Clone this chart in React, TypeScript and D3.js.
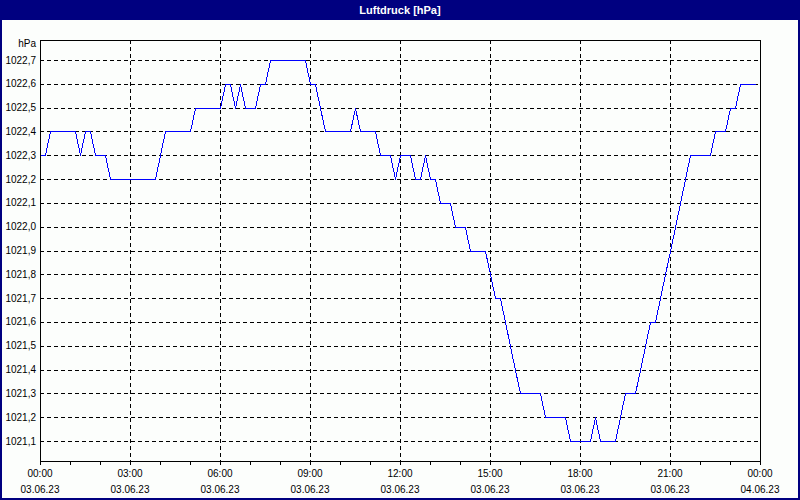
import React from "react";
import * as d3 from "d3";

// pressure values (hPa) every 10 minutes from 03.06.23 00:00
const pressureValues: number[] = [
  1022.3, 1022.3, 1022.4, 1022.4, 1022.4, 1022.4, 1022.4, 1022.4, 1022.3, 1022.4,
  1022.4, 1022.3, 1022.3, 1022.3, 1022.2, 1022.2, 1022.2, 1022.2, 1022.2, 1022.2,
  1022.2, 1022.2, 1022.2, 1022.2, 1022.3, 1022.4, 1022.4, 1022.4, 1022.4, 1022.4,
  1022.4, 1022.5, 1022.5, 1022.5, 1022.5, 1022.5, 1022.5, 1022.6, 1022.6, 1022.5,
  1022.6, 1022.5, 1022.5, 1022.5, 1022.6, 1022.6, 1022.7, 1022.7, 1022.7, 1022.7,
  1022.7, 1022.7, 1022.7, 1022.7, 1022.6, 1022.6, 1022.5, 1022.4, 1022.4, 1022.4,
  1022.4, 1022.4, 1022.4, 1022.5, 1022.4, 1022.4, 1022.4, 1022.4, 1022.3, 1022.3,
  1022.3, 1022.2, 1022.3, 1022.3, 1022.3, 1022.2, 1022.2, 1022.3, 1022.2, 1022.2,
  1022.1, 1022.1, 1022.1, 1022.0, 1022.0, 1022.0, 1021.9, 1021.9, 1021.9, 1021.9,
  1021.8, 1021.7, 1021.7, 1021.6, 1021.5, 1021.4, 1021.3, 1021.3, 1021.3, 1021.3,
  1021.3, 1021.2, 1021.2, 1021.2, 1021.2, 1021.2, 1021.1, 1021.1, 1021.1, 1021.1,
  1021.1, 1021.2, 1021.1, 1021.1, 1021.1, 1021.1, 1021.2, 1021.3, 1021.3, 1021.3,
  1021.4, 1021.5, 1021.6, 1021.6, 1021.7, 1021.8, 1021.9, 1022.0, 1022.1, 1022.2,
  1022.3, 1022.3, 1022.3, 1022.3, 1022.3, 1022.4, 1022.4, 1022.4, 1022.5, 1022.5,
  1022.6, 1022.6, 1022.6, 1022.6,
];
const startTime = new Date(2023, 5, 3, 0, 0);
const endTime = new Date(2023, 5, 4, 0, 0);
const stepMinutes = 10;
const yTickValues: number[] = [1021.1, 1021.2, 1021.3, 1021.4, 1021.5, 1021.6, 1021.7, 1021.8, 1021.9, 1022.0, 1022.1, 1022.2, 1022.3, 1022.4, 1022.5, 1022.6, 1022.7];
const title = "Luftdruck [hPa]";
const unitLabel = "hPa";

const W = 800;
const H = 500;
const plotLeft = 40;
const plotRight = 760;
const plotTop = 40;
const plotBottom = 461;
const FONT = "'Liberation Sans', Arial, sans-serif";

export default function App() {
  const data = pressureValues.map((v, i) => ({
    t: new Date(startTime.getTime() + i * stepMinutes * 60000),
    v,
  }));
  const x = d3.scaleTime().domain([startTime, endTime]).range([plotLeft, plotRight]);
  const y = d3.scaleLinear().domain([1021.1, 1022.7]).range([441, 60]);
  const line = d3
    .line<{ t: Date; v: number }>()
    .x((d) => x(d.t) + 0.5)
    .y((d) => Math.round(y(d.v)) + 0.5);
  const hourTicks = d3.timeHour.every(1)!.range(startTime, new Date(endTime.getTime() + 1));
  const labelTicks = d3.timeHour.every(3)!.range(startTime, new Date(endTime.getTime() + 1));
  const fmtTime = d3.timeFormat("%H:%M");
  const fmtDate = d3.timeFormat("%d.%m.%y");
  const fmtY = (v: number) => v.toFixed(1).replace(".", ",");

  return (
    <div style={{ position: "fixed", left: 0, top: 0 }}>
      <svg width={W} height={H} style={{ display: "block" }}>
        <rect x={0} y={0} width={W} height={H} fill="#000080" />
        <rect x={2} y={20} width={W - 4} height={H - 22} fill="#fcfefc" />
        <text x={W / 2} y={14} textAnchor="middle" fill="#ffffff" fontFamily={FONT} fontWeight="bold" fontSize={11}>
          {title}
        </text>
        {/* horizontal grid */}
        {yTickValues.map((v) => (
          <line key={"h" + v} x1={plotLeft} x2={plotRight} y1={Math.round(y(v)) + 0.5} y2={Math.round(y(v)) + 0.5} stroke="#000" strokeDasharray="4,3" strokeWidth={1} shapeRendering="crispEdges" />
        ))}
        {/* vertical grid */}
        {labelTicks.slice(1, -1).map((t) => (
          <line key={"v" + t.getTime()} x1={Math.round(x(t)) + 0.5} x2={Math.round(x(t)) + 0.5} y1={plotTop} y2={plotBottom} stroke="#000" strokeDasharray="4,3" strokeWidth={1} shapeRendering="crispEdges" />
        ))}
        {/* frame */}
        <rect x={plotLeft + 0.5} y={plotTop + 0.5} width={plotRight - plotLeft} height={plotBottom - plotTop} fill="none" stroke="#000" strokeWidth={1} shapeRendering="crispEdges" />
        {/* x ticks */}
        {hourTicks.map((t) => (
          <line key={"t" + t.getTime()} x1={Math.round(x(t)) + 0.5} x2={Math.round(x(t)) + 0.5} y1={plotBottom} y2={plotBottom + 4} stroke="#000" strokeWidth={1} shapeRendering="crispEdges" />
        ))}
        {labelTicks.map((t) => (
          <g key={"l" + t.getTime()} fontFamily={FONT} fontSize={10} fill="#000" textAnchor="middle">
            <text x={x(t)} y={477}>{fmtTime(t)}</text>
            <text x={x(t)} y={493}>{fmtDate(t)}</text>
          </g>
        ))}
        {/* y labels */}
        {yTickValues.map((v) => (
          <text key={"y" + v} x={36} y={y(v) + 3.5} textAnchor="end" fontFamily={FONT} fontSize={10} fill="#000">
            {fmtY(v)}
          </text>
        ))}
        <text x={36} y={47} textAnchor="end" fontFamily={FONT} fontSize={10} fill="#000">
          {unitLabel}
        </text>
        <path d={line(data) || ""} fill="none" stroke="#0000ff" strokeWidth={1} shapeRendering="crispEdges" />
      </svg>
    </div>
  );
}
